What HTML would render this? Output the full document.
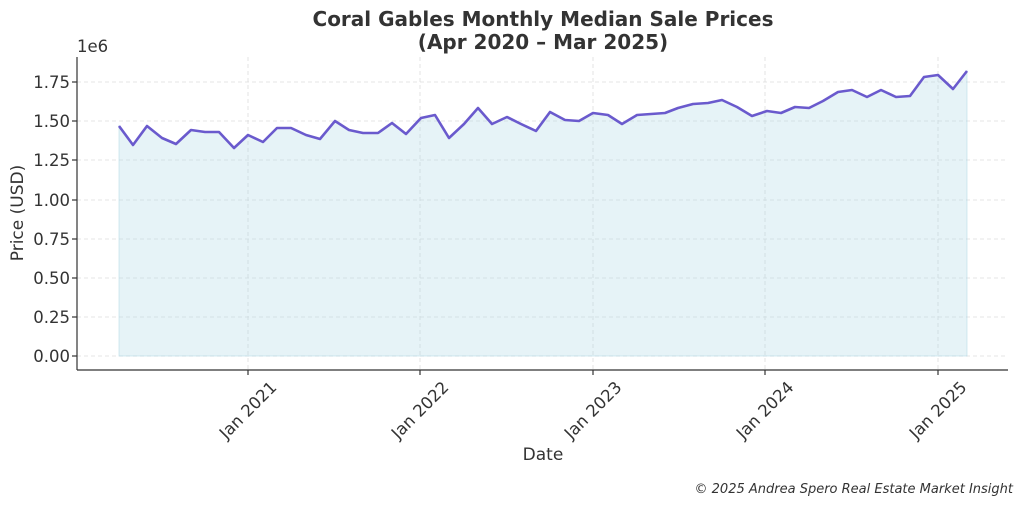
<!DOCTYPE html><html><head><style>body{margin:0;background:#fff}svg text{font-family:"DejaVu Sans","Liberation Sans",sans-serif;fill:#333}</style></head><body>
<svg width="1024" height="506" viewBox="0 0 1024 506">
<text x="543" y="26" text-anchor="middle" font-size="20" font-weight="bold">Coral Gables Monthly Median Sale Prices</text>
<text x="543" y="49" text-anchor="middle" font-size="20" font-weight="bold">(Apr 2020 – Mar 2025)</text>
<g stroke="#ddd" stroke-dasharray="4,3" stroke-width="0.8">
<line x1="77" x2="1008" y1="356" y2="356"/><line x1="77" x2="1008" y1="317" y2="317"/><line x1="77" x2="1008" y1="278" y2="278"/><line x1="77" x2="1008" y1="239" y2="239"/><line x1="77" x2="1008" y1="200" y2="200"/><line x1="77" x2="1008" y1="160" y2="160"/><line x1="77" x2="1008" y1="121" y2="121"/><line x1="77" x2="1008" y1="82" y2="82"/>
<line x1="248" x2="248" y1="57" y2="370"/><line x1="420" x2="420" y1="57" y2="370"/><line x1="593" x2="593" y1="57" y2="370"/><line x1="765" x2="765" y1="57" y2="370"/><line x1="938" x2="938" y1="57" y2="370"/>
</g>
<polygon fill="#add8e6" fill-opacity="0.3" stroke="#add8e6" stroke-opacity="0.5" points="119,356 119,126 133,145 147,126 162,138 176,144 191,130 205,132 219,132 234,148 248,135 263,142 277,128 291,128 306,135 320,139 335,121 349,130 363,133 378,133 392,123 406,134 421,118 435,115 449,138 464,124 478,108 492,124 507,117 521,124 536,131 550,112 565,120 579,121 593,113 608,115 622,124 637,115 651,114 665,113 678,108 693,104 708,103 722,100 737,107 752,116 767,111 781,113 795,107 809,108 823,101 838,92 852,90 867,97 881,90 896,97 910,96 924,77 938,75 953,89 967,71 967,356"/>
<polyline fill="none" stroke="#6a5acd" stroke-width="2.6" stroke-linejoin="round" points="119,126 133,145 147,126 162,138 176,144 191,130 205,132 219,132 234,148 248,135 263,142 277,128 291,128 306,135 320,139 335,121 349,130 363,133 378,133 392,123 406,134 421,118 435,115 449,138 464,124 478,108 492,124 507,117 521,124 536,131 550,112 565,120 579,121 593,113 608,115 622,124 637,115 651,114 665,113 678,108 693,104 708,103 722,100 737,107 752,116 767,111 781,113 795,107 809,108 823,101 838,92 852,90 867,97 881,90 896,97 910,96 924,77 938,75 953,89 967,71"/>
<g stroke="#333" stroke-width="1.2"><line x1="77" y1="57" x2="77" y2="370"/><line x1="77" y1="370" x2="1008" y2="370"/>
<line x1="72" x2="77" y1="356" y2="356"/><line x1="72" x2="77" y1="317" y2="317"/><line x1="72" x2="77" y1="278" y2="278"/><line x1="72" x2="77" y1="239" y2="239"/><line x1="72" x2="77" y1="200" y2="200"/><line x1="72" x2="77" y1="160" y2="160"/><line x1="72" x2="77" y1="121" y2="121"/><line x1="72" x2="77" y1="82" y2="82"/>
<line x1="248" x2="248" y1="370" y2="375"/><line x1="420" x2="420" y1="370" y2="375"/><line x1="593" x2="593" y1="370" y2="375"/><line x1="765" x2="765" y1="370" y2="375"/><line x1="938" x2="938" y1="370" y2="375"/></g>
<g font-size="16.5" text-anchor="end"><text x="70" y="362">0.00</text><text x="70" y="323">0.25</text><text x="70" y="284">0.50</text><text x="70" y="245">0.75</text><text x="70" y="206">1.00</text><text x="70" y="166">1.25</text><text x="70" y="127">1.50</text><text x="70" y="88">1.75</text></g>
<text x="77" y="52" font-size="16.5">1e6</text>
<g font-size="16.5" text-anchor="middle"><text transform="translate(252,414) rotate(-45)">Jan 2021</text><text transform="translate(424,414) rotate(-45)">Jan 2022</text><text transform="translate(597,414) rotate(-45)">Jan 2023</text><text transform="translate(769,414) rotate(-45)">Jan 2024</text><text transform="translate(942,414) rotate(-45)">Jan 2025</text></g>
<text x="543" y="460" text-anchor="middle" font-size="17">Date</text>
<text transform="translate(23,213) rotate(-90)" text-anchor="middle" font-size="17">Price (USD)</text>
<text x="1013" y="493" text-anchor="end" font-size="13" font-style="italic" fill="#444">© 2025 Andrea Spero Real Estate Market Insight</text>
</svg></body></html>
